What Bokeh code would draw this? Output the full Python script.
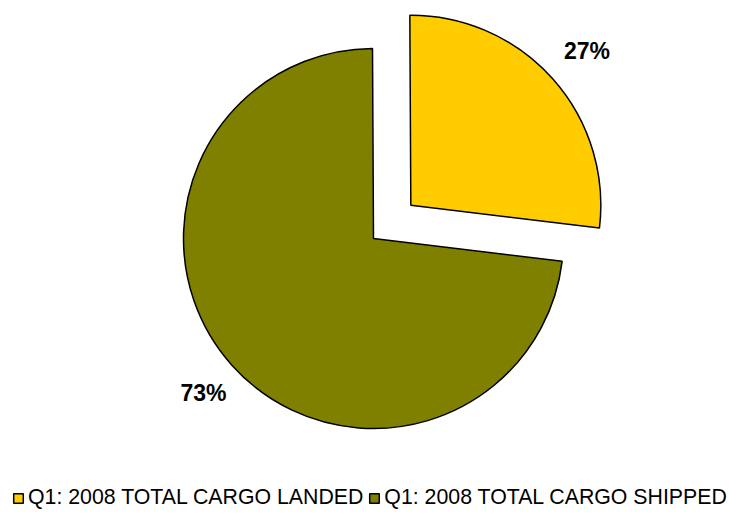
import math
from bokeh.plotting import figure
from bokeh.models import Range1d, Legend, LegendItem, ColumnDataSource
from bokeh.core.properties import value
from bokeh.embed import file_html
from bokeh.resources import INLINE

labels = ["Q1: 2008 TOTAL CARGO LANDED", "Q1: 2008 TOTAL CARGO SHIPPED"]
shares = [27, 73]
colors = ["#FFCC00", "#808000"]

W, H = 729, 514
cx, cy, R = 373, 276, 190
explode = [50, 0]
label_r = 1.22 * R

p = figure(width=W, height=H, output_backend="svg", toolbar_location=None,
           x_range=Range1d(0, W), y_range=Range1d(0, H), min_border=0)
p.axis.visible = False
p.grid.visible = False
p.outline_line_color = None
p.background_fill_color = "white"

total = sum(shares)
# first slice ends at 12 o'clock and runs clockwise
end = 90.3
renderers = []
for lab, s, c, ex in zip(labels, shares, colors, explode):
    sweep = 360.0 * s / total
    start = end - sweep
    mid = math.radians((start + end) / 2)
    x0 = cx + ex * math.cos(mid)
    y0 = cy + ex * math.sin(mid)
    src = ColumnDataSource(dict(x=[x0], y=[y0]))
    r = p.wedge(x="x", y="y", radius=R, start_angle=math.radians(start),
                end_angle=math.radians(end), source=src, fill_color=c,
                line_color="black", line_width=1.5)
    renderers.append(r)
    tx = x0 + label_r * math.cos(mid) + 3
    ty = y0 + label_r * math.sin(mid)
    p.text(x=[tx], y=[ty], text=[f"{s}%"], text_align="center", text_baseline="middle",
           text_font=value("Liberation Sans"), text_font_style="bold",
           text_font_size="23px", text_color="black")
    end = start

legend = Legend(items=[LegendItem(label=l, renderers=[r]) for l, r in zip(labels, renderers)],
                orientation="horizontal", location=(12, 4),
                label_text_font="Liberation Sans", label_text_font_size="21.3px",
                label_text_color="black",
                glyph_width=12, glyph_height=12, spacing=5, padding=0, margin=0,
                label_standoff=4, border_line_color=None, background_fill_alpha=0)
p.add_layout(legend)

open("out.html", "w").write(file_html(p, INLINE))
